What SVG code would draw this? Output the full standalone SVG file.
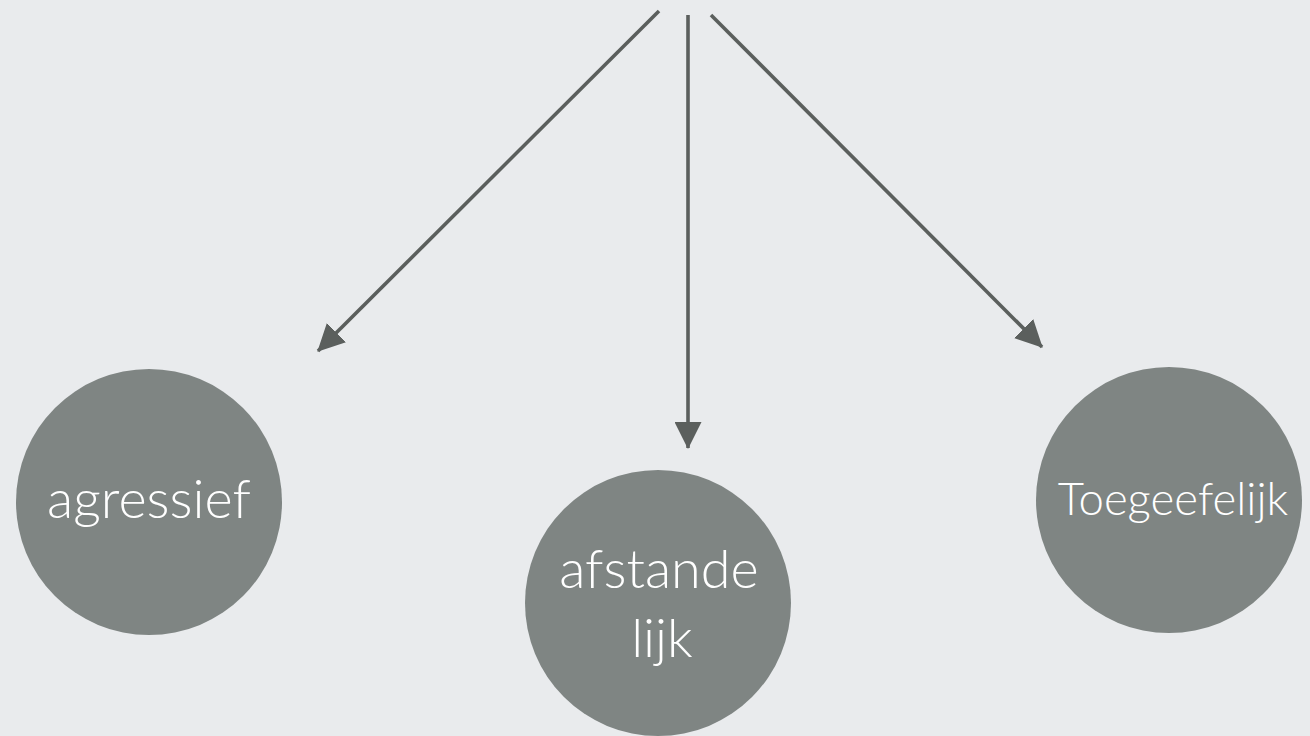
<svg xmlns="http://www.w3.org/2000/svg" width="1310" height="736" viewBox="0 0 1310 736">
  <defs>
    <marker id="ah" markerUnits="userSpaceOnUse" markerWidth="27" markerHeight="27" viewBox="0 0 27 27" refX="26" refY="13.5" orient="auto">
      <path d="M0,0 L27,13.5 L0,27 Z" fill="#5b5f5d"/>
    </marker>
  </defs>
  <style>
    .node { fill: #7f8583; }
    .label { fill: #ffffff; font-family: Lato, "Open Sans", "Liberation Sans", sans-serif; font-weight: 300; text-anchor: middle; }
    .edge { stroke: #5b5f5d; stroke-width: 3.6; fill: none; marker-end: url(#ah); }
  </style>
  <rect x="0" y="0" width="1310" height="736" fill="#e9ebed"/>
  <g id="connectors">
    <line class="edge" x1="659" y1="11" x2="318" y2="351"/>
    <line class="edge" x1="688" y1="15" x2="688" y2="448"/>
    <line class="edge" x1="711" y1="15" x2="1042" y2="347"/>
  </g>
  <g id="node-agressief">
    <circle class="node" cx="149" cy="502" r="133"/>
    <text class="label" x="149" y="518" font-size="54">agressief</text>
  </g>
  <g id="node-afstandelijk">
    <circle class="node" cx="658" cy="603" r="133"/>
    <text class="label" x="659" y="588" font-size="54">afstande</text>
    <text class="label" x="662" y="657" font-size="54">lijk</text>
  </g>
  <g id="node-toegeefelijk">
    <circle class="node" cx="1169" cy="500" r="133"/>
    <text class="label" x="1173" y="515" font-size="45.5">Toegeefelijk</text>
  </g>
</svg>
